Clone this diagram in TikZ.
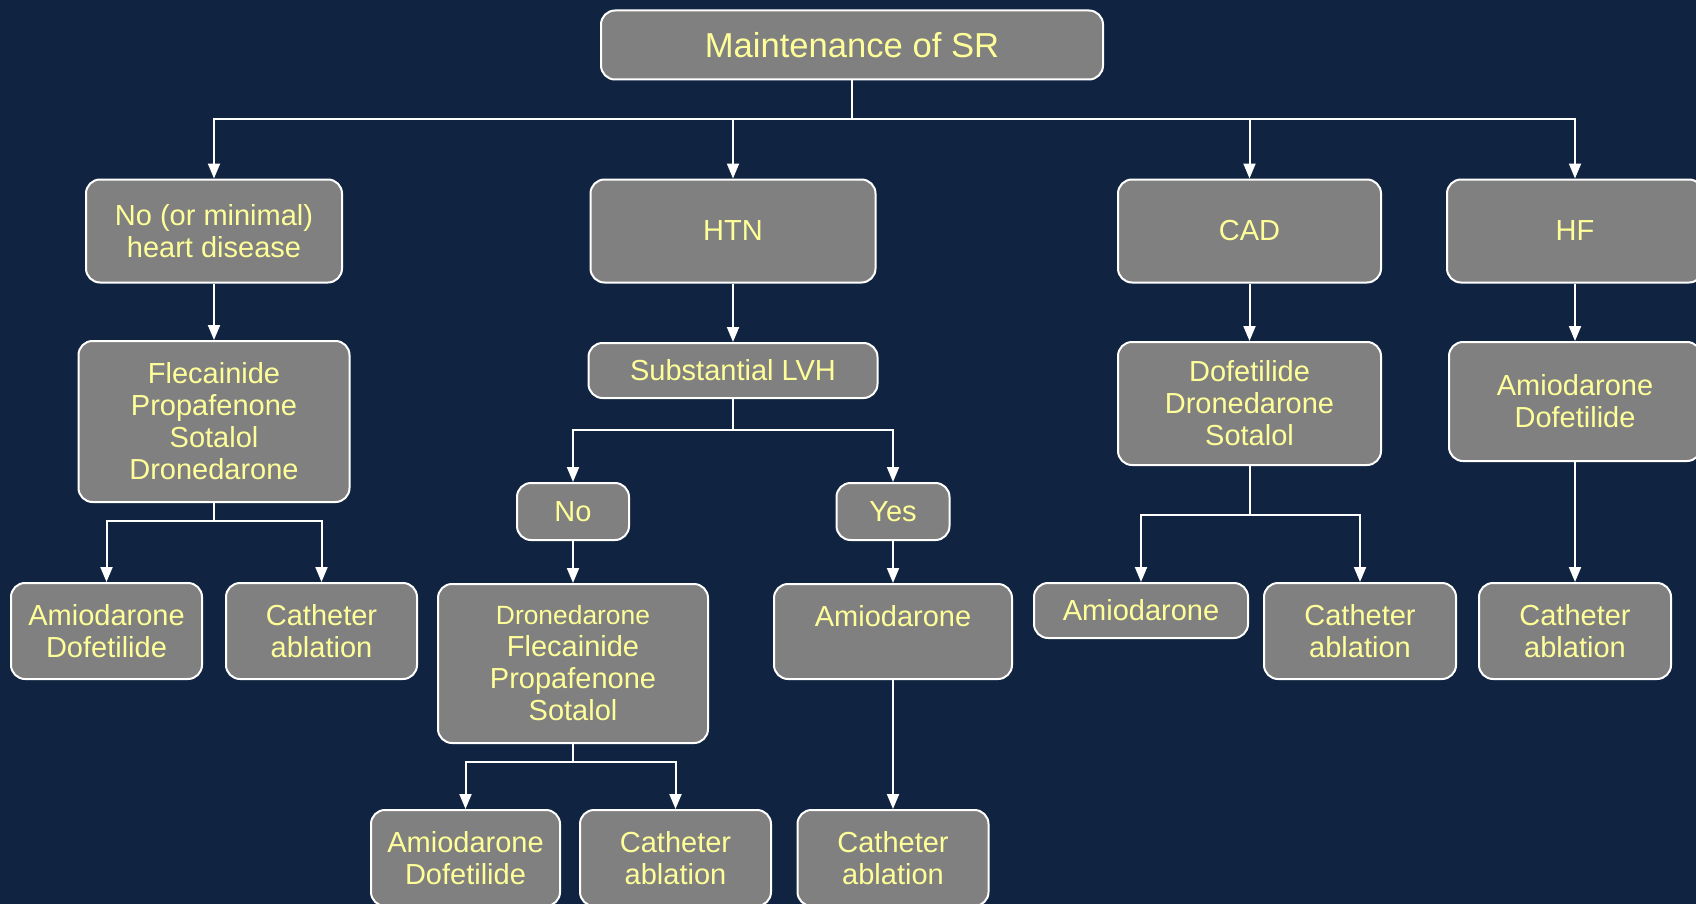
\documentclass[tikz,border=0pt]{standalone}
\usepackage{fontspec}
\setmainfont{Liberation Sans}
\usepackage{tikz}
\usetikzlibrary{arrows.meta}

\definecolor{navy}{RGB}{16,35,64}
\definecolor{boxgray}{RGB}{128,128,128}
\definecolor{paleyellow}{RGB}{255,255,153}

\begin{document}
\begin{tikzpicture}[x=0.5pt,y=-0.5pt,
    box/.style={draw=white,line width=1pt,fill=boxgray,rounded corners=7pt,
      inner sep=0pt,align=center,text=paleyellow,
      font=\fontsize{14.5}{16}\selectfont},
    arr/.style={draw=white,line width=1pt,-{Triangle[width=6pt,length=7.5pt]}},
    lin/.style={draw=white,line width=1pt}]
    % Background
    \fill[navy] (0,0) rectangle (1696,904);
    \useasboundingbox (0,0) rectangle (1696,904);
    \clip (0,0) rectangle (1696,904);

    % Top
    \node[box,minimum width=251pt,minimum height=34.5pt,
      font=\fontsize{17.3}{20}\selectfont] (root) at (852,45) {Maintenance of SR};

    % First level
    \node[box,minimum width=128pt,minimum height=51.5pt] (nohd) at (214,231) {No (or minimal)\\heart disease};
    \node[box,minimum width=142.5pt,minimum height=51.5pt] (htn) at (733,231) {HTN};
    \node[box,minimum width=131.5pt,minimum height=51.5pt] (cad) at (1249.5,231) {CAD};
    \node[box,minimum width=128pt,minimum height=51.5pt] (hf) at (1575,231) {HF};

    % Second level
    \node[box,minimum width=135.5pt,minimum height=80.5pt] (flec) at (214,421.5) {Flecainide\\Propafenone\\Sotalol\\Dronedarone};
    \node[box,minimum width=144.5pt,minimum height=27.5pt] (lvh) at (733,370.5) {Substantial LVH};
    \node[box,minimum width=131.5pt,minimum height=61.5pt] (dofcad) at (1249.5,403.5) {Dofetilide\\Dronedarone\\Sotalol};
    \node[box,minimum width=126pt,minimum height=59.5pt] (amihf) at (1575,401.5) {Amiodarone\\Dofetilide};

    % LVH answers
    \node[box,minimum width=56pt,minimum height=28.5pt] (no) at (573,511.5) {No};
    \node[box,minimum width=56.5pt,minimum height=28.5pt] (yes) at (893,511.5) {Yes};

    % Third level
    \node[box,minimum width=95.5pt,minimum height=48pt] (amiL) at (106.5,631) {Amiodarone\\Dofetilide};
    \node[box,minimum width=95.5pt,minimum height=48pt] (cathL) at (321.5,631) {Catheter\\ablation};
    \node[box,minimum width=135pt,minimum height=79.5pt] (dron) at (573,663.5)
      {{\fontsize{13.2}{16}\selectfont Dronedarone}\\Flecainide\\Propafenone\\Sotalol};
    \node[box,minimum width=119pt,minimum height=47.5pt] (amiY) at (893,631.5) {Amiodarone\\\mbox{}};
    \node[box,minimum width=107pt,minimum height=27.5pt] (amiC) at (1141,610.5) {Amiodarone};
    \node[box,minimum width=96pt,minimum height=48pt] (cathC) at (1360,631) {Catheter\\ablation};
    \node[box,minimum width=96pt,minimum height=48pt] (cathH) at (1575,631) {Catheter\\ablation};

    % Bottom
    \node[box,minimum width=94.5pt,minimum height=48pt] (amiB) at (465.5,858) {Amiodarone\\Dofetilide};
    \node[box,minimum width=95.5pt,minimum height=48pt] (cathB) at (675.5,858) {Catheter\\ablation};
    \node[box,minimum width=95.5pt,minimum height=48pt] (cathY) at (893,858) {Catheter\\ablation};

    % Junctions
    \coordinate (j0) at (852,119);
    \coordinate (jF) at (214,521);
    \coordinate (jL) at (733,430);
    \coordinate (jC) at (1249.5,515);
    \coordinate (jD) at (573,762);

    % Connectors
    \draw[lin] (root) -- (j0);
    \foreach \t in {nohd,htn,cad,hf}
      \draw[arr] (j0) -| (\t);
    \draw[arr] (nohd) -- (flec);
    \draw[arr] (htn) -- (lvh);
    \draw[arr] (cad) -- (dofcad);
    \draw[arr] (hf) -- (amihf);

    \draw[lin] (flec) -- (jF);
    \draw[arr] (jF) -| (amiL);
    \draw[arr] (jF) -| (cathL);

    \draw[lin] (lvh) -- (jL);
    \draw[arr] (jL) -| (no);
    \draw[arr] (jL) -| (yes);
    \draw[arr] (no) -- (dron);
    \draw[arr] (yes) -- (amiY);
    \draw[arr] (amiY) -- (cathY);

    \draw[lin] (dofcad) -- (jC);
    \draw[arr] (jC) -| (amiC);
    \draw[arr] (jC) -| (cathC);
    \draw[arr] (amihf) -- (cathH);

    \draw[lin] (dron) -- (jD);
    \draw[arr] (jD) -| (amiB);
    \draw[arr] (jD) -| (cathB);
\end{tikzpicture}
\end{document}
